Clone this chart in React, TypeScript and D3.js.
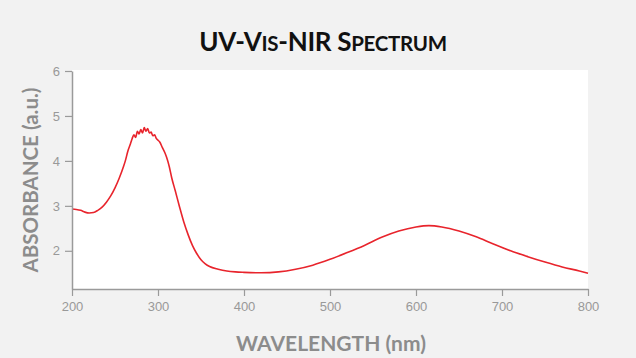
import * as d3 from "d3";
import { useEffect, useRef } from "react";

// wavelength (nm) / absorbance (a.u.)
const wavelengths = [
  200, 205, 210, 215, 220, 225, 230, 235, 240, 245, 250, 255, 260, 262, 265,
  268, 270, 272, 274, 276, 278, 280, 282, 284, 286, 288, 290, 292, 294, 296,
  298, 300, 302, 305, 308, 310, 313, 316, 320, 325, 330, 335, 340, 345, 350,
  355, 360, 370, 380, 390, 400, 420, 440, 460, 480, 500, 520, 540, 560, 580,
  600, 615, 630, 650, 670, 690, 710, 730, 750, 770, 790, 800,
];
const absorbance = [
  2.93, 2.92, 2.9, 2.86, 2.84, 2.85, 2.9, 2.97, 3.08, 3.22, 3.4, 3.62, 3.88,
  4.0, 4.22, 4.38, 4.5, 4.58, 4.52, 4.66, 4.6, 4.7, 4.62, 4.74, 4.66, 4.72,
  4.62, 4.64, 4.56, 4.58, 4.5, 4.46, 4.42, 4.3, 4.18, 4.08, 3.88, 3.62, 3.34,
  2.98, 2.64, 2.36, 2.12, 1.94, 1.8, 1.71, 1.65, 1.59, 1.55, 1.53, 1.52, 1.51,
  1.53, 1.59, 1.68, 1.81, 1.96, 2.12, 2.3, 2.44, 2.53, 2.56, 2.53, 2.44, 2.31,
  2.15, 2.0, 1.87, 1.75, 1.64, 1.55, 1.5,
];
const xTicks = [200, 300, 400, 500, 600, 700, 800];
const yTicks = [2, 3, 4, 5, 6];

export default function App() {
  const xAxisRef = useRef<SVGGElement>(null);
  const yAxisRef = useRef<SVGGElement>(null);

  const w = 636;
  const h = 358;
  const left = 72;
  const right = 588;
  const top = 71;
  const bottom = 289;

  const x = d3.scaleLinear().domain([200, 800]).range([left, right]);
  const y = d3.scaleLinear().domain([1.15, 6]).range([bottom, top]);

  const pts = wavelengths.map((wl, i) => [wl, absorbance[i]] as [number, number]);
  const line = d3
    .line<[number, number]>()
    .x((d) => x(d[0]))
    .y((d) => y(d[1]))
    .curve(d3.curveMonotoneX);

  useEffect(() => {
    const xa = d3.select(xAxisRef.current);
    xa.call(
      d3.axisBottom(x).tickValues(xTicks).tickFormat(d3.format("d")).tickSize(7).tickPadding(6).tickSizeOuter(0)
    );
    const ya = d3.select(yAxisRef.current);
    ya.call(
      d3.axisLeft(y).tickValues(yTicks).tickFormat(d3.format("d")).tickSize(7).tickPadding(5).tickSizeOuter(0)
    );
    [xa, ya].forEach((g) => {
      g.selectAll("path").attr("stroke", "#9a9a9a").attr("stroke-width", 1.5);
      g.selectAll("line").attr("stroke", "#9a9a9a").attr("stroke-width", 1.2);
      g.selectAll("text")
        .attr("fill", "#999")
        .style("font-family", "'Liberation Sans', Arial, sans-serif")
        .style("font-size", "13px");
    });
  }, []);

  return (
    <svg
      width={w}
      height={h}
      style={{ position: "absolute", left: 0, top: 0 }}
    >
      <rect width={w} height={h} fill="#f2f2f2" />
      <rect x={left} y={top - 1} width={right - left} height={bottom - top + 1} fill="#fff" />
      <text
        x={323}
        y={51}
        textAnchor="middle"
        fill="#111"
        style={{ fontFamily: "Lato, sans-serif", fontWeight: 700, letterSpacing: "-0.3px" }}
      >
        <tspan fontSize={26}>UV-V</tspan>
        <tspan fontSize={20.5}>IS</tspan>
        <tspan fontSize={26}>-NIR S</tspan>
        <tspan fontSize={20.5}>PECTRUM</tspan>
      </text>
      <path d={line(pts) ?? ""} fill="none" stroke="#e8242c" strokeWidth={1.6} />
      <g ref={xAxisRef} transform={`translate(0,${bottom})`} />
      <g ref={yAxisRef} transform={`translate(${left},0)`} />
      <text
        x={331}
        y={351}
        textAnchor="middle"
        fill="#8c8c8c"
        style={{ fontFamily: "Lato, sans-serif", fontWeight: 700, fontSize: 21 }}
      >
        WAVELENGTH (nm)
      </text>
      <text
        transform="translate(38,180) rotate(-90)"
        textAnchor="middle"
        fill="#8c8c8c"
        style={{ fontFamily: "Lato, sans-serif", fontWeight: 700, fontSize: 20.5 }}
      >
        ABSORBANCE (a.u.)
      </text>
    </svg>
  );
}
